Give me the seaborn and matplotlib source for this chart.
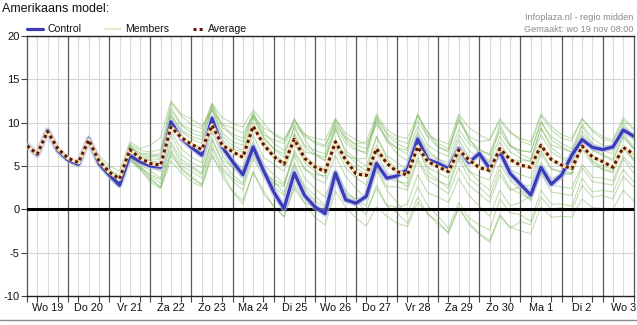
import numpy as np
import pandas as pd
import matplotlib
matplotlib.use("Agg")
import matplotlib.pyplot as plt
from matplotlib.lines import Line2D
import seaborn as sns

# ---------------- data (6-hourly steps starting Wo 19 00:00) ----------------
day_labels = ["Wo 19", "Do 20", "Vr 21", "Za 22", "Zo 23", "Ma 24", "Di 25",
              "Wo 26", "Do 27", "Vr 28", "Za 29", "Zo 30", "Ma 1", "Di 2", "Wo 3"]

control = [7.4, 6.3, 9.1, 6.8, 5.7, 5.2, 8.1, 5.3, 4.0, 2.8, 6.2, 5.5,
           5.0, 4.85, 10.1, 8.2, 7.15, 6.25, 10.5, 7.2, 5.5, 4.0, 7.2, 4.5,
           2.0, 0.1, 4.2, 1.6, 0.3, -0.5, 4.2, 1.1, 0.7, 1.5, 5.3, 3.6,
           3.85, 4.6, 8.1, 5.75, 5.3, 4.7, 7.0, 5.4, 6.45, 4.7, 6.65, 4.15,
           2.9, 1.65, 4.85, 2.9, 3.95, 6.25, 8.05, 7.15, 6.9, 7.2, 9.15, 8.45]

average = [7.3, 6.4, 9.0, 7.0, 5.9, 5.4, 8.0, 5.6, 4.3, 3.5, 6.9, 5.9,
           5.3, 5.1, 9.5, 8.3, 7.5, 6.9, 9.7, 7.4, 6.65, 6.0, 9.6, 7.5,
           6.1, 5.2, 8.1, 5.9, 4.9, 4.35, 7.8, 5.7, 4.1, 3.9, 7.0, 5.3,
           4.35, 3.95, 7.2, 5.5, 4.9, 4.35, 6.85, 5.7, 4.8, 4.5, 7.0, 5.75,
           5.1, 4.85, 7.4, 5.75, 5.1, 4.7, 7.3, 6.05, 5.5, 4.85, 7.15, 6.4]

m01 = [7.5, 6.4, 9.2, 7.0, 5.9, 5.4, 8.3, 5.8, 4.5, 3.8, 7.5, 6.8, 6.6, 6.9, 12.3, 10.8,
       9.8, 9.3, 12.2, 10.6, 9.9, 9.5, 11.5, 10.0, 8.6, 7.9, 10.4, 8.7, 7.6, 7.2, 10.5, 8.4,
       7.5, 7.8, 11.0, 9.2, 8.4, 8.2, 10.8, 8.9, 7.6, 7.0, 10.2, 8.4, 7.8, 8.0, 10.5, 9.0,
       7.9, 7.4, 10.8, 9.2, 8.2, 7.9, 10.5, 9.0, 8.1, 7.8, 10.3, 9.2]
m02 = [7.2, 6.2, 8.9, 6.7, 5.5, 5.0, 7.8, 5.0, 3.7, 2.6, 5.8, 4.7, 3.1, 2.4, 5.6, 4.2,
       3.2, 2.6, 6.1, 4.3, 2.1, 1.0, 4.2, 2.2, 0.3, -0.8, 2.4, 0.7, -0.9, -1.8, 2.1, 0.2,
       -1.0, -1.9, 0.3, -0.8, -1.6, -2.0, 0.8, -0.5, -1.8, -2.6, 0.2, -1.5, -2.9, -3.8, -0.8, -2.0,
       -2.5, -2.8, 0.3, -0.9, -0.8, -0.9, 1.2, 0.2, 0.1, 0.0, 2.2, 1.0]
m03 = [7.3, 6.3, 9.0, 6.9, 5.8, 5.3, 8.0, 5.5, 4.2, 3.2, 6.8, 5.8, 5.2, 5.0, 9.8, 8.0,
       7.2, 6.8, 10.2, 7.5, 6.6, 6.0, 9.8, 7.9, 6.4, 5.5, 8.6, 6.2, 5.2, 4.6, 8.1, 5.8,
       4.8, 4.0, 7.4, 5.5, 4.6, 4.2, 7.6, 5.6, 5.0, 4.4, 7.0, 5.9, 5.0, 4.6, 7.2, 5.8,
       5.2, 4.9, 7.6, 5.8, 5.2, 4.8, 7.5, 6.1, 5.6, 5.0, 7.3, 6.4]
m04 = [7.4, 6.2, 9.1, 6.9, 5.7, 5.1, 8.2, 5.6, 4.3, 3.3, 7.0, 6.2, 6.0, 6.5, 11.4, 9.7,
       8.8, 8.4, 12.0, 9.4, 8.7, 8.2, 11.2, 9.0, 7.6, 6.8, 10.5, 8.1, 6.4, 5.7, 9.4, 6.5,
       5.3, 4.4, 8.4, 5.9, 4.4, 3.6, 7.2, 4.3, 3.4, 2.4, 5.9, 3.6, 2.6, 1.4, 4.6, 2.4,
       1.8, 1.2, 4.1, 2.8, 2.6, 2.4, 5.2, 3.7, 3.6, 3.3, 6.1, 4.8]
m05 = [7.3, 6.4, 9.0, 6.8, 5.6, 5.1, 7.9, 5.2, 3.8, 2.7, 5.9, 4.9, 3.6, 2.5, 6.2, 4.8,
       3.8, 2.9, 7.0, 4.5, 3.3, 2.2, 5.9, 3.8, 3.0, 2.6, 6.5, 4.6, 4.0, 3.9, 8.0, 6.2,
       5.8, 5.9, 10.2, 7.8, 7.1, 6.8, 10.9, 8.3, 7.2, 6.6, 10.4, 8.0, 7.0, 6.2, 9.8, 7.4,
       6.4, 5.8, 9.4, 7.1, 6.2, 5.5, 8.6, 6.9, 6.3, 5.8, 8.5, 7.0]
m06 = [7.5, 6.5, 9.2, 6.9, 5.8, 5.3, 8.1, 5.4, 4.1, 3.0, 6.4, 5.3, 4.8, 4.4, 8.6, 6.3,
       5.4, 4.8, 9.0, 6.2, 4.8, 3.6, 7.4, 4.4, 3.2, 1.9, 5.4, 2.7, 1.6, 0.4, 3.8, 1.5,
       0.4, -0.6, 2.8, 0.5, 0.2, 0.6, 4.0, 1.9, 1.4, 0.8, 3.6, 1.6, 0.4, -0.8, 2.2, 0.4,
       0.8, 1.6, 5.4, 3.6, 3.9, 4.2, 7.4, 5.5, 5.0, 4.6, 7.2, 5.8]
m07 = [7.4, 6.3, 9.2, 6.8, 5.7, 5.2, 8.2, 5.5, 4.4, 3.5, 7.2, 6.4, 6.2, 6.0, 10.8, 9.0,
       8.1, 7.6, 11.8, 8.8, 7.8, 7.4, 10.8, 8.6, 8.0, 7.6, 10.2, 8.6, 8.2, 8.0, 10.4, 8.8,
       8.0, 7.5, 9.8, 8.2, 7.0, 6.4, 9.6, 7.4, 6.6, 6.1, 9.2, 7.6, 6.8, 6.4, 9.0, 7.2,
       6.8, 6.6, 10.0, 8.4, 7.6, 7.0, 9.8, 8.2, 7.4, 7.0, 9.6, 8.0]
m08 = [7.2, 6.2, 9.0, 6.7, 5.6, 5.1, 8.0, 5.3, 3.9, 2.9, 6.1, 5.2, 4.4, 3.6, 7.8, 5.8,
       5.0, 4.2, 8.2, 5.4, 4.0, 3.0, 6.8, 4.2, 2.6, 1.6, 5.0, 2.4, 1.0, 0.2, 4.2, 1.8,
       1.2, 0.4, 4.6, 2.2, 0.8, -0.6, 2.6, 0.4, -0.8, -2.2, 0.8, -1.0, -1.8, -2.4, 1.2, -0.4,
       -0.6, -1.4, 2.2, 0.6, 0.6, 0.4, 3.6, 2.0, 2.2, 2.0, 4.6, 3.2]
m09 = [7.3, 6.4, 9.1, 7.0, 5.9, 5.5, 8.4, 5.9, 4.6, 3.9, 7.4, 6.1, 5.6, 5.4, 10.4, 8.4,
       7.6, 7.1, 10.8, 8.0, 7.0, 6.6, 10.6, 8.2, 7.0, 6.4, 9.4, 7.2, 6.2, 5.6, 9.2, 6.8,
       5.8, 5.0, 8.4, 6.2, 5.4, 4.6, 8.6, 6.4, 5.8, 5.4, 8.6, 6.8, 5.9, 5.4, 8.4, 6.6,
       5.9, 5.5, 8.6, 6.6, 5.9, 5.3, 8.4, 6.8, 6.2, 5.6, 8.3, 7.0]
m10 = [7.4, 6.3, 9.0, 6.8, 5.7, 5.2, 7.9, 5.2, 3.8, 2.7, 6.0, 5.0, 3.8, 3.0, 6.8, 5.0,
       4.4, 3.6, 7.4, 4.8, 3.6, 2.8, 6.4, 4.2, 3.4, 2.8, 6.8, 4.8, 3.6, 3.0, 6.2, 3.8,
       2.4, 1.2, 4.8, 2.6, 2.6, 2.2, 5.6, 3.4, 2.6, 1.8, 4.8, 2.8, 1.8, 0.8, 4.0, 2.2,
       2.6, 2.8, 6.4, 4.6, 4.4, 4.2, 7.6, 5.6, 4.6, 4.2, 7.0, 5.6]
m11 = [7.5, 6.5, 9.2, 7.1, 6.0, 5.6, 8.5, 6.2, 5.0, 4.4, 7.8, 7.0, 7.4, 8.3, 12.5, 11.0,
       10.4, 9.6, 11.4, 9.8, 9.4, 8.8, 10.8, 9.4, 8.8, 8.1, 9.8, 8.4, 7.8, 7.4, 9.8, 8.2,
       7.4, 7.0, 10.6, 8.8, 8.0, 7.6, 10.2, 8.4, 8.0, 7.5, 11.0, 9.4, 8.6, 8.0, 10.2, 8.8,
       8.2, 7.8, 11.0, 9.6, 8.6, 8.2, 10.4, 9.2, 8.4, 8.0, 10.6, 9.4]
m12 = [7.3, 6.3, 9.1, 6.9, 5.8, 5.2, 8.0, 5.4, 4.0, 3.1, 6.6, 5.6, 5.0, 4.6, 9.0, 7.0,
       6.0, 5.4, 9.6, 6.8, 5.6, 4.8, 8.6, 6.0, 5.2, 4.4, 7.6, 5.4, 4.4, 3.6, 7.2, 4.8,
       3.6, 2.8, 6.6, 4.2, 3.4, 2.6, 6.0, 3.8, 3.2, 2.8, 6.2, 4.4, 3.8, 3.4, 6.6, 4.6,
       4.0, 3.6, 6.8, 4.8, 4.2, 4.0, 7.0, 5.2, 4.6, 4.4, 7.4, 5.8]
m13 = [7.2, 6.1, 8.9, 6.6, 5.5, 4.9, 7.7, 5.0, 3.6, 2.5, 5.6, 4.6, 3.4, 2.6, 6.6, 4.6,
       3.6, 2.8, 6.4, 3.8, 2.0, 0.6, 4.4, 1.8, 0.4, -0.9, 2.8, 0.8, 0.2, -0.6, 3.6, 1.6,
       0.8, 1.2, 5.6, 3.6, 3.2, 3.0, 7.0, 4.8, 4.2, 3.6, 6.6, 4.4, 3.2, 2.2, 5.2, 3.4,
       2.2, 1.0, 4.2, 2.0, 1.8, 1.6, 4.8, 3.2, 3.0, 2.8, 5.8, 4.2]
m14 = [7.4, 6.4, 9.1, 6.9, 5.8, 5.3, 8.2, 5.6, 4.3, 3.4, 7.1, 6.0, 5.8, 5.8, 11.0, 9.2,
       8.4, 8.0, 11.6, 8.4, 7.4, 6.8, 10.0, 7.2, 6.0, 5.0, 8.8, 6.6, 6.4, 6.0, 9.6, 7.6,
       6.8, 6.6, 10.4, 8.0, 6.4, 5.6, 9.0, 6.8, 5.8, 5.0, 8.0, 6.0, 5.0, 4.2, 7.8, 5.8,
       5.6, 5.6, 9.4, 7.4, 7.0, 6.6, 9.0, 7.4, 6.8, 6.4, 8.8, 7.2]
m15 = [7.3, 6.3, 9.0, 6.8, 5.6, 5.0, 7.9, 5.1, 3.7, 2.6, 5.8, 4.8, 4.0, 3.4, 7.4, 5.4,
       4.8, 4.0, 8.0, 5.6, 5.0, 4.2, 7.8, 5.2, 4.0, 3.0, 6.2, 3.6, 2.4, 1.4, 4.6, 2.2,
       1.0, -0.2, 2.4, 0.4, -0.4, -1.6, 1.4, -0.6, -1.4, -2.8, 0.2, -1.8, -2.8, -3.6, -0.6, -2.2,
       -1.4, -1.8, 1.4, 0.0, 0.2, -0.2, 2.8, 1.4, 1.6, 1.2, 3.8, 2.6]
m16 = [7.5, 6.4, 9.1, 7.0, 5.8, 5.4, 8.3, 5.7, 4.4, 3.6, 7.3, 6.5, 6.4, 6.2, 11.8, 9.8,
       9.2, 8.8, 12.2, 9.8, 8.4, 7.8, 11.0, 8.4, 7.0, 6.0, 9.6, 7.4, 6.8, 6.4, 10.2, 8.0,
       7.0, 6.4, 10.8, 8.6, 7.6, 7.0, 11.0, 8.8, 7.2, 6.8, 10.8, 8.2, 6.4, 5.6, 9.4, 7.4,
       6.8, 6.6, 10.2, 8.0, 7.2, 6.6, 9.6, 7.6, 7.0, 6.8, 10.0, 8.2]

members = [m01, m02, m03, m04, m05, m06, m07, m08, m09, m10, m11, m12, m13, m14, m15, m16]

# ---------------- build frames ----------------
n = len(control)
t = np.arange(n) * 0.25  # days since Wo 19 00:00
df_members = pd.DataFrame({
    "t": np.tile(t, len(members)),
    "v": np.concatenate([np.asarray(m, float) for m in members]),
    "member": np.repeat(np.arange(len(members)), n),
})
df_main = pd.DataFrame({"t": t, "control": control, "average": average})

# ---------------- figure ----------------
sns.set_theme(style="white")
plt.rcParams["font.family"] = ["Liberation Sans", "DejaVu Sans"]

W, H = 637, 325
fig = plt.figure(figsize=(W / 100, H / 100), dpi=100)
fig.patch.set_facecolor("white")
ax = fig.add_axes([27 / W, 1 - 296 / H, (633.5 - 27) / W, 260 / H])
ax.set_facecolor("white")

ax.set_xlim(0, 14.75)
ax.set_ylim(-10, 20)

# grid
for x6 in np.arange(0.25, 14.75, 0.25):
    if abs(x6 - round(x6)) > 1e-6:
        ax.axvline(x6, color="#dcdcdc", lw=0.8, zorder=0.5)
for d in range(1, 15):
    ax.axvline(d, color="#5a5a5a", lw=0.9, zorder=0.8)
for yv in [-5, 5, 10, 15]:
    ax.axhline(yv, color="#d6d6d6", lw=0.8, zorder=0.5)

# members
sns.lineplot(data=df_members, x="t", y="v", units="member", estimator=None,
             color="#5ea93a", lw=0.8, alpha=0.38, ax=ax, legend=False, zorder=2)

# zero line
ax.axhline(0, color="black", lw=2.2, zorder=3)

# control with soft halo
sns.lineplot(data=df_main, x="t", y="control", color="#b4b8ee", lw=4.6,
             alpha=0.6, ax=ax, legend=False, zorder=4)
sns.lineplot(data=df_main, x="t", y="control", color="#3a3db5", lw=2.3,
             ax=ax, legend=False, zorder=5)

# average (dotted on pale base)
sns.lineplot(data=df_main, x="t", y="average", color="#f3e2b8", lw=2.8,
             ax=ax, legend=False, zorder=6)
sns.lineplot(data=df_main, x="t", y="average", color="#5c1808", lw=2.2,
             linestyle=(0, (1.0, 1.0)), ax=ax, legend=False, zorder=7)

# axes styling
ax.set_xlabel("")
ax.set_ylabel("")
ax.set_yticks([-10, -5, 0, 5, 10, 15, 20])
ax.set_yticklabels(["-10", "-5", "0", "5", "10", "15", "20"])
ax.tick_params(axis="y", which="major", direction="out", length=4, width=0.8,
               color="#444", labelsize=8, labelcolor="#111", pad=1.5, left=True)

ax.set_xticks(np.arange(0, 14.76, 0.25), minor=True)
ax.set_xticks(np.arange(0.5, 15, 1.0))
ax.set_xticklabels(day_labels)
ax.tick_params(axis="x", which="major", length=0, labelsize=7.8,
               labelcolor="#111", pad=5)
ax.tick_params(axis="x", which="minor", direction="out", length=4, width=0.8,
               color="#444", bottom=True)
for lab in ax.get_xticklabels():
    lab.set_clip_on(False)

top = ax.secondary_xaxis("top")
top.set_xticks(np.arange(0, 14.76, 0.25), minor=True)
top.set_xticks([])
top.tick_params(axis="x", which="minor", direction="in", length=3, width=0.8,
                color="#444")
top.spines["top"].set_visible(False)

for side, col, lw in [("left", "#555555", 0.9), ("bottom", "#222222", 1.0),
                      ("top", "#222222", 1.0), ("right", "#555555", 0.9)]:
    ax.spines[side].set_visible(True)
    ax.spines[side].set_color(col)
    ax.spines[side].set_linewidth(lw)

# ---------------- texts / legend ----------------
def fx(px):
    return px / W


def fy(py):
    return 1 - py / H


fig.text(fx(2), fy(8.5), "Amerikaans model:", fontsize=9, color="#111",
         va="center", ha="left")
fig.text(fx(633), fy(17.5), "Infoplaza.nl - regio midden", fontsize=6.6,
         color="#8a8a8a", ha="right", va="center")
fig.text(fx(633), fy(29.5), "Gemaakt: wo 19 nov 08:00", fontsize=6.6,
         color="#8a8a8a", ha="right", va="center")

ly = fy(29)
fig.add_artist(Line2D([fx(27), fx(43)], [ly, ly], color="#3a3db5", lw=2.3))
fig.text(fx(47), ly, "Control", fontsize=7.6, color="#111", va="center")
fig.add_artist(Line2D([fx(105), fx(121)], [ly, ly], color="#d9e6c4", lw=1.2))
fig.text(fx(125), ly, "Members", fontsize=7.6, color="#111", va="center")
fig.add_artist(Line2D([fx(193), fx(204)], [ly, ly], color="#5c1808", lw=2.2,
                      linestyle=(0, (1.0, 1.0))))
fig.text(fx(208), ly, "Average", fontsize=7.6, color="#111", va="center")

# bottom separator line
fig.add_artist(Line2D([0, 1], [fy(319.5), fy(319.5)], color="#8c8c8c", lw=1.0))

fig.savefig("out.png", dpi=100, facecolor="white")
